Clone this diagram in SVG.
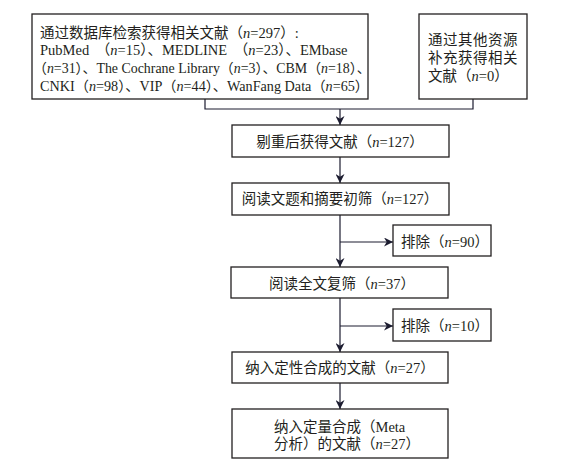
<svg xmlns="http://www.w3.org/2000/svg" width="568" height="463" viewBox="0 0 568 463">
<style>
.box{fill:#fff;stroke:#231f20;stroke-width:1.3}
.t{font-family:"Liberation Serif","Noto Sans CJK SC",serif;font-size:14.5px;fill:#231f20}
.c{text-anchor:middle}
.i{font-style:italic}
.ln{fill:none;stroke:#1c1c30;stroke-width:1.2}
</style>
<defs>
<marker id="ah" viewBox="0 0 10 10" refX="10" refY="5" markerWidth="9" markerHeight="9" markerUnits="userSpaceOnUse" orient="auto">
<path d="M0,0 L10,5 L0,10 L3,5 Z" fill="#1c1c30"/>
</marker>
</defs>
<rect width="568" height="463" fill="#fff"/>
<g id="connectors">
<path class="ln" d="M205,99 V109 H473 V99"/>
<path class="ln" d="M340,109 V125" marker-end="url(#ah)"/>
<path class="ln" d="M340,157 V183" marker-end="url(#ah)"/>
<path class="ln" d="M340,215 V267" marker-end="url(#ah)"/>
<path class="ln" d="M340,242 H393" marker-end="url(#ah)"/>
<path class="ln" d="M340,298 V352" marker-end="url(#ah)"/>
<path class="ln" d="M340,326 H393" marker-end="url(#ah)"/>
<path class="ln" d="M340,383 V409" marker-end="url(#ah)"/>
</g>
<g id="search">
<rect class="box" x="32" y="14" width="336" height="85"/>
<text class="t" x="40" y="38">通过数据库检索获得相关文献（<tspan class="i">n</tspan>=297）:</text>
<text class="t" x="40" y="55" word-spacing="3">PubMed （<tspan class="i">n</tspan>=15）、MEDLINE （<tspan class="i">n</tspan>=23）、EMbase</text>
<text class="t" x="33" y="73" style="font-size:13.9px">（<tspan class="i">n</tspan>=31）、The Cochrane Library（<tspan class="i">n</tspan>=3）、CBM（<tspan class="i">n</tspan>=18）、</text>
<text class="t" x="40" y="91" style="font-size:14.2px">CNKI（<tspan class="i">n</tspan>=98）、VIP（<tspan class="i">n</tspan>=44）、WanFang Data（<tspan class="i">n</tspan>=65）</text>
</g>
<g id="other">
<rect class="box" x="419" y="14" width="108" height="85"/>
<text class="t" x="428" y="45" letter-spacing="0.5">通过其他资源</text>
<text class="t" x="428" y="63" letter-spacing="0.5">补充获得相关</text>
<text class="t" x="428" y="81">文献（<tspan class="i">n</tspan>=0）</text>
</g>
<g id="dedup">
<rect class="box" x="232" y="125" width="217" height="32"/>
<text class="t c" x="340" y="147">剔重后获得文献（<tspan class="i">n</tspan>=127）</text>
</g>
<g id="screen1">
<rect class="box" x="232" y="183" width="217" height="32"/>
<text class="t c" x="340" y="204">阅读文题和摘要初筛（<tspan class="i">n</tspan>=127）</text>
</g>
<g id="excl1">
<rect class="box" x="393" y="225" width="98" height="31"/>
<text class="t" x="401" y="247">排除（<tspan class="i">n</tspan>=90）</text>
</g>
<g id="screen2">
<rect class="box" x="231" y="267" width="217" height="31"/>
<text class="t c" x="342" y="289">阅读全文复筛（<tspan class="i">n</tspan>=37）</text>
</g>
<g id="excl2">
<rect class="box" x="393" y="309" width="98" height="32"/>
<text class="t" x="401" y="331">排除（<tspan class="i">n</tspan>=10）</text>
</g>
<g id="qual">
<rect class="box" x="232" y="352" width="216" height="31"/>
<text class="t c" x="340" y="373">纳入定性合成的文献（<tspan class="i">n</tspan>=27）</text>
</g>
<g id="quant">
<rect class="box" x="232" y="409" width="216" height="49"/>
<text class="t" x="274" y="432">纳入定量合成（Meta</text>
<text class="t" x="274" y="449">分析）的文献（<tspan class="i">n</tspan>=27）</text>
</g>
</svg>
